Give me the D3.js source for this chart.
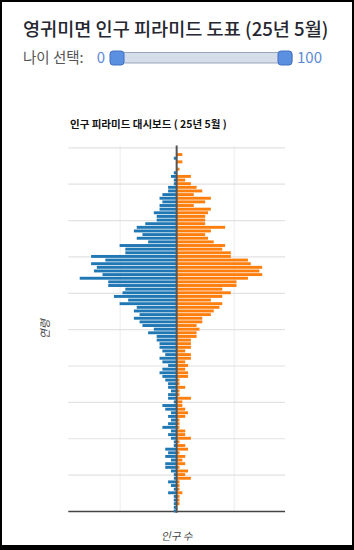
<!DOCTYPE html>
<html>
<head>
<meta charset="utf-8">
<title>영귀미면 인구 피라미드</title>
<script src="https://cdn.jsdelivr.net/npm/d3@7"></script>
<style>
    body { margin: 0; background: #fff; font-family: "Noto Sans CJK KR", "Noto Sans", sans-serif; }
    svg { position: absolute; left: 0; top: 0; }
    #frame {
        position: absolute; left: 0; top: 0; width: 354px; height: 550px;
        box-sizing: border-box; border: 2px solid #000; border-bottom-width: 5px;
        pointer-events: none;
    }
</style>
</head>
<body>
<svg id="svg"></svg>
<div id="frame"></div>

<script>
// ages 0..100
var ages = d3.range(0, 101);

// male counts by age (0..100)
var male = [
    1, 1, 1, 1, 1, 3, 1, 2, 3, 1,
    1, 2, 4, 4, 2, 4, 3, 4, 1, 1,
    2, 3, 2, 5, 3, 2, 3, 2, 4, 5,
    1, 3, 3, 2, 3, 3, 4, 5, 6, 5,
    3, 5, 6, 4, 5, 6, 6, 7, 7, 10,
    8, 12, 13, 15, 13, 15, 14, 20, 17, 22,
    19, 18, 24, 24, 34, 26, 29, 28, 30, 25,
    30, 18, 18, 20, 10, 14, 12, 15, 14, 11,
    7, 7, 8, 6, 6, 5, 6, 5, 3, 3,
    1, 1, 2, 1, 0, 0, 0, 1, 0, 0,
    0
];

// female counts by age (0..100)
var female = [
    0, 0, 1, 1, 1, 2, 1, 1, 1, 5,
    3, 4, 1, 3, 2, 3, 1, 4, 3, 1,
    5, 3, 3, 1, 1, 1, 3, 4, 3, 2,
    2, 5, 1, 1, 3, 1, 1, 4, 4, 3,
    4, 3, 5, 5, 3, 5, 5, 5, 7, 7,
    8, 7, 9, 9, 12, 13, 15, 16, 12, 16,
    19, 16, 21, 21, 25, 30, 29, 30, 26, 25,
    19, 19, 16, 17, 13, 11, 10, 12, 17, 10,
    10, 10, 11, 12, 6, 10, 12, 6, 9, 7,
    5, 3, 5, 0, 1, 0, 2, 0, 2, 0,
    0
];

var ageTicks = d3.range(0, 101, 10);
var popTicks = [-20, 0, 20];

var W = 354, H = 550;
var svg = d3.select("#svg").attr("width", W).attr("height", H);

// ---- header (title + slider) ----
svg.append("text")
    .attr("x", 23).attr("y", 36)
    .attr("font-size", 18.6).attr("font-weight", 500)
    .attr("fill", "#262730")
    .text("영귀미면 인구 피라미드 도표 (25년 5월)");

svg.append("text")
    .attr("x", 23).attr("y", 63)
    .attr("font-size", 14.5).attr("fill", "#555")
    .text("나이 선택:");

var sliderMin = 0, sliderMax = 100;
var slider = d3.scaleLinear().domain([sliderMin, sliderMax]).range([117, 285]);

svg.append("text")
    .attr("x", 105).attr("y", 63).attr("text-anchor", "end")
    .attr("font-size", 15).attr("fill", "#5b8ad3")
    .text(sliderMin);
svg.append("text")
    .attr("x", 297).attr("y", 63)
    .attr("font-size", 15).attr("fill", "#5b8ad3")
    .text(sliderMax);

svg.append("rect")
    .attr("x", 113).attr("y", 52.5).attr("width", 179).attr("height", 10.5)
    .attr("rx", 2)
    .attr("fill", "#d5dcea").attr("stroke", "#9aa5bd").attr("stroke-width", 1);

svg.selectAll(".handle")
    .data([sliderMin, sliderMax])
    .enter().append("rect")
    .attr("class", "handle")
    .attr("x", function(d){ return slider(d) - 7; })
    .attr("y", 51).attr("width", 14).attr("height", 14).attr("rx", 3)
    .attr("fill", "#5b8fe0").attr("stroke", "#4271c2").attr("stroke-width", 1);

// ---- chart ----
var margin = {left: 68.3, right: 354 - 285, top: 145.5, bottom: 550 - 512.8};

var x = d3.scaleLinear().domain([-38, 38]).range([margin.left, W - margin.right]);
var y = d3.scaleLinear().domain([-0.5, 100.5]).range([H - margin.bottom, margin.top]);

svg.append("text")
    .attr("x", 70).attr("y", 128)
    .attr("font-size", 10.5).attr("font-weight", "bold").attr("fill", "#111")
    .text("인구 피라미드 대시보드 ( 25년 5월 )");

// vertical grid
var gx = svg.append("g")
    .attr("transform", "translate(0," + (H - margin.bottom) + ")")
    .call(d3.axisBottom(x).tickValues(popTicks).tickSize(-(y(-0.5) - y(100.5))).tickFormat(""));
gx.select(".domain").remove();
gx.selectAll("line").attr("stroke", "#ececec").attr("stroke-width", 1);

// horizontal grid
var gy = svg.append("g")
    .attr("transform", "translate(" + margin.left + ",0)")
    .call(d3.axisLeft(y).tickValues(ageTicks).tickSize(-(x(38) - x(-38))).tickFormat(""));
gy.select(".domain").remove();
gy.selectAll("line").attr("stroke", "#e2e2e2").attr("stroke-width", 1.2);
gy.selectAll("line").filter(function(d){ return d === 0; })
    .attr("stroke", "#444").attr("stroke-width", 1.5);

var barH = (y(0) - y(1)) * 0.8;

svg.append("g").selectAll("rect")
    .data(ages)
    .enter().append("rect")
    .attr("x", function(d){ return x(-male[d]); })
    .attr("y", function(d){ return y(d) - barH / 2; })
    .attr("width", function(d){ return x(0) - x(-male[d]); })
    .attr("height", barH)
    .attr("fill", "#1f77b4");

svg.append("g").selectAll("rect")
    .data(ages)
    .enter().append("rect")
    .attr("x", x(0))
    .attr("y", function(d){ return y(d) - barH / 2; })
    .attr("width", function(d){ return x(female[d]) - x(0); })
    .attr("height", barH)
    .attr("fill", "#ff7f0e");

// zero line
svg.append("line")
    .attr("x1", x(0)).attr("x2", x(0))
    .attr("y1", y(100.5)).attr("y2", y(-0.5))
    .attr("stroke", "#555").attr("stroke-width", 2);

// axis titles
svg.append("text")
    .attr("x", x(0)).attr("y", 540)
    .attr("text-anchor", "middle")
    .attr("font-size", 10.5).attr("font-style", "italic").attr("fill", "#444")
    .text("인구 수");

svg.append("text")
    .attr("transform", "translate(49," + y(50) + ") rotate(-90)")
    .attr("text-anchor", "middle")
    .attr("font-size", 11).attr("font-style", "italic").attr("fill", "#444")
    .text("연령");
</script>
</body>
</html>
